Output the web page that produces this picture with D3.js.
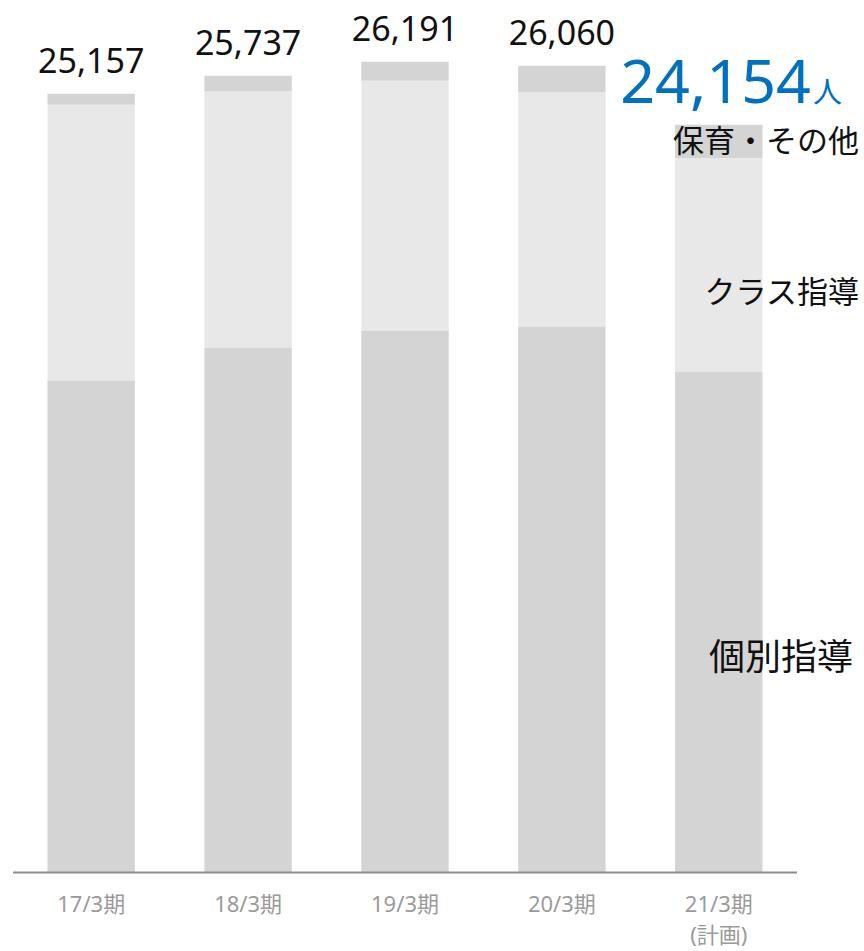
<!DOCTYPE html>
<html>
<head>
<meta charset="utf-8">
<script src="https://cdn.jsdelivr.net/npm/d3@7"></script>
<style>
  body { margin: 0; background: #fff; }
  svg { display: block; font-family: "Noto Sans", "Noto Sans CJK JP", sans-serif; }
</style>
</head>
<body>
<div id="chart"></div>
<script>
const periods = ['17/3期', '18/3期', '19/3期', '20/3期', '21/3期'];
const periodNotes = ['', '', '', '', '(計画)'];
const kobetsu = [15890, 16937, 17506, 17635, 16161];
const classShido = [8911, 8294, 8071, 7577, 6918];
const hoikuOther = [356, 506, 614, 848, 1075];
const totals = [25157, 25737, 26191, 26060, 24154];
const seriesNames = ['個別指導', 'クラス指導', '保育・その他'];
const seriesColours = ['#d4d4d4', '#e8e8e8', '#d4d4d4'];

const width = 864;
const height = 951;
const baseY = 872;

const svg = d3.select('#chart').append('svg')
  .attr('width', width)
  .attr('height', height);

const x = d3.scaleBand()
  .domain(periods)
  .range([13, 797])
  .paddingInner(0.443)
  .paddingOuter(0.22);

const y = d3.scaleLinear()
  .domain([0, 28000])
  .range([baseY, baseY - 28000 * 0.030938]);

const rows = periods.map((p, i) => ({ period: p, kobetsu: kobetsu[i], cls: classShido[i], other: hoikuOther[i] }));
const stack = d3.stack().keys(['kobetsu', 'cls', 'other'])(rows);

// stacked bars
stack.forEach((layer, li) => {
  svg.append('g')
    .attr('class', `series${li}`)
    .selectAll('rect')
    .data(layer)
    .enter().append('rect')
    .attr('x', d => x(d.data.period))
    .attr('width', x.bandwidth())
    .attr('y', d => y(d[1]))
    .attr('height', d => y(d[0]) - y(d[1]))
    .style('fill', seriesColours[li]);
});

// axis line
svg.append('line')
  .attr('x1', x.range()[0]).attr('x2', x.range()[1])
  .attr('y1', baseY + 0.5).attr('y2', baseY + 0.5)
  .style('stroke', '#8c8c8c')
  .style('stroke-width', 2);

// category labels
const xLabels = svg.append('g').attr('class', 'x-labels')
  .style('font-size', '22px')
  .style('fill', '#9a9a9a')
  .attr('text-anchor', 'middle');

periods.forEach((p, i) => {
  const cx = x(p) + x.bandwidth() / 2;
  xLabels.append('text').attr('x', cx).attr('y', baseY + 40).text(p);
  if (periodNotes[i]) {
    xLabels.append('text').attr('x', cx).attr('y', baseY + 71).text(periodNotes[i]);
  }
});

// totals above bars (actuals)
totals.forEach((t, i) => {
  if (i === totals.length - 1) return;
  svg.append('text')
    .attr('x', x(periods[i]) + x.bandwidth() / 2)
    .attr('y', y(t) - 21)
    .attr('text-anchor', 'middle')
    .style('font-size', '34px')
    .style('fill', '#111')
    .text(d3.format(',')(t));
});

// plan total
const last = totals.length - 1;
const planLabel = svg.append('text')
  .attr('x', 842)
  .attr('y', y(totals[last]) - 22)
  .attr('text-anchor', 'end')
  .style('fill', '#0070c0');
planLabel.append('tspan').style('font-size', '61px').text(d3.format(',')(totals[last]));
planLabel.append('tspan').style('font-size', '29px').style('font-family', '"Noto Sans CJK JP"').attr('dx', 2).text('人');

// series labels next to plan bar
const lastRow = periods.length - 1;
const segLabelY = [
  y(kobetsu[lastRow]) + 298,
  y(kobetsu[lastRow] + classShido[lastRow]) + 145,
  y(totals[lastRow]) + 27
];
const segLabelX = [853, 859, 859];
seriesNames.forEach((name, i) => {
  svg.append('text')
    .attr('x', segLabelX[i])
    .attr('y', segLabelY[i])
    .attr('text-anchor', 'end')
    .style('font-family', '"Noto Sans CJK JP", sans-serif')
    .style('font-size', i === 0 ? '36px' : '31px')
    .style('fill', '#111')
    .text(name);
});
</script>
</body>
</html>
